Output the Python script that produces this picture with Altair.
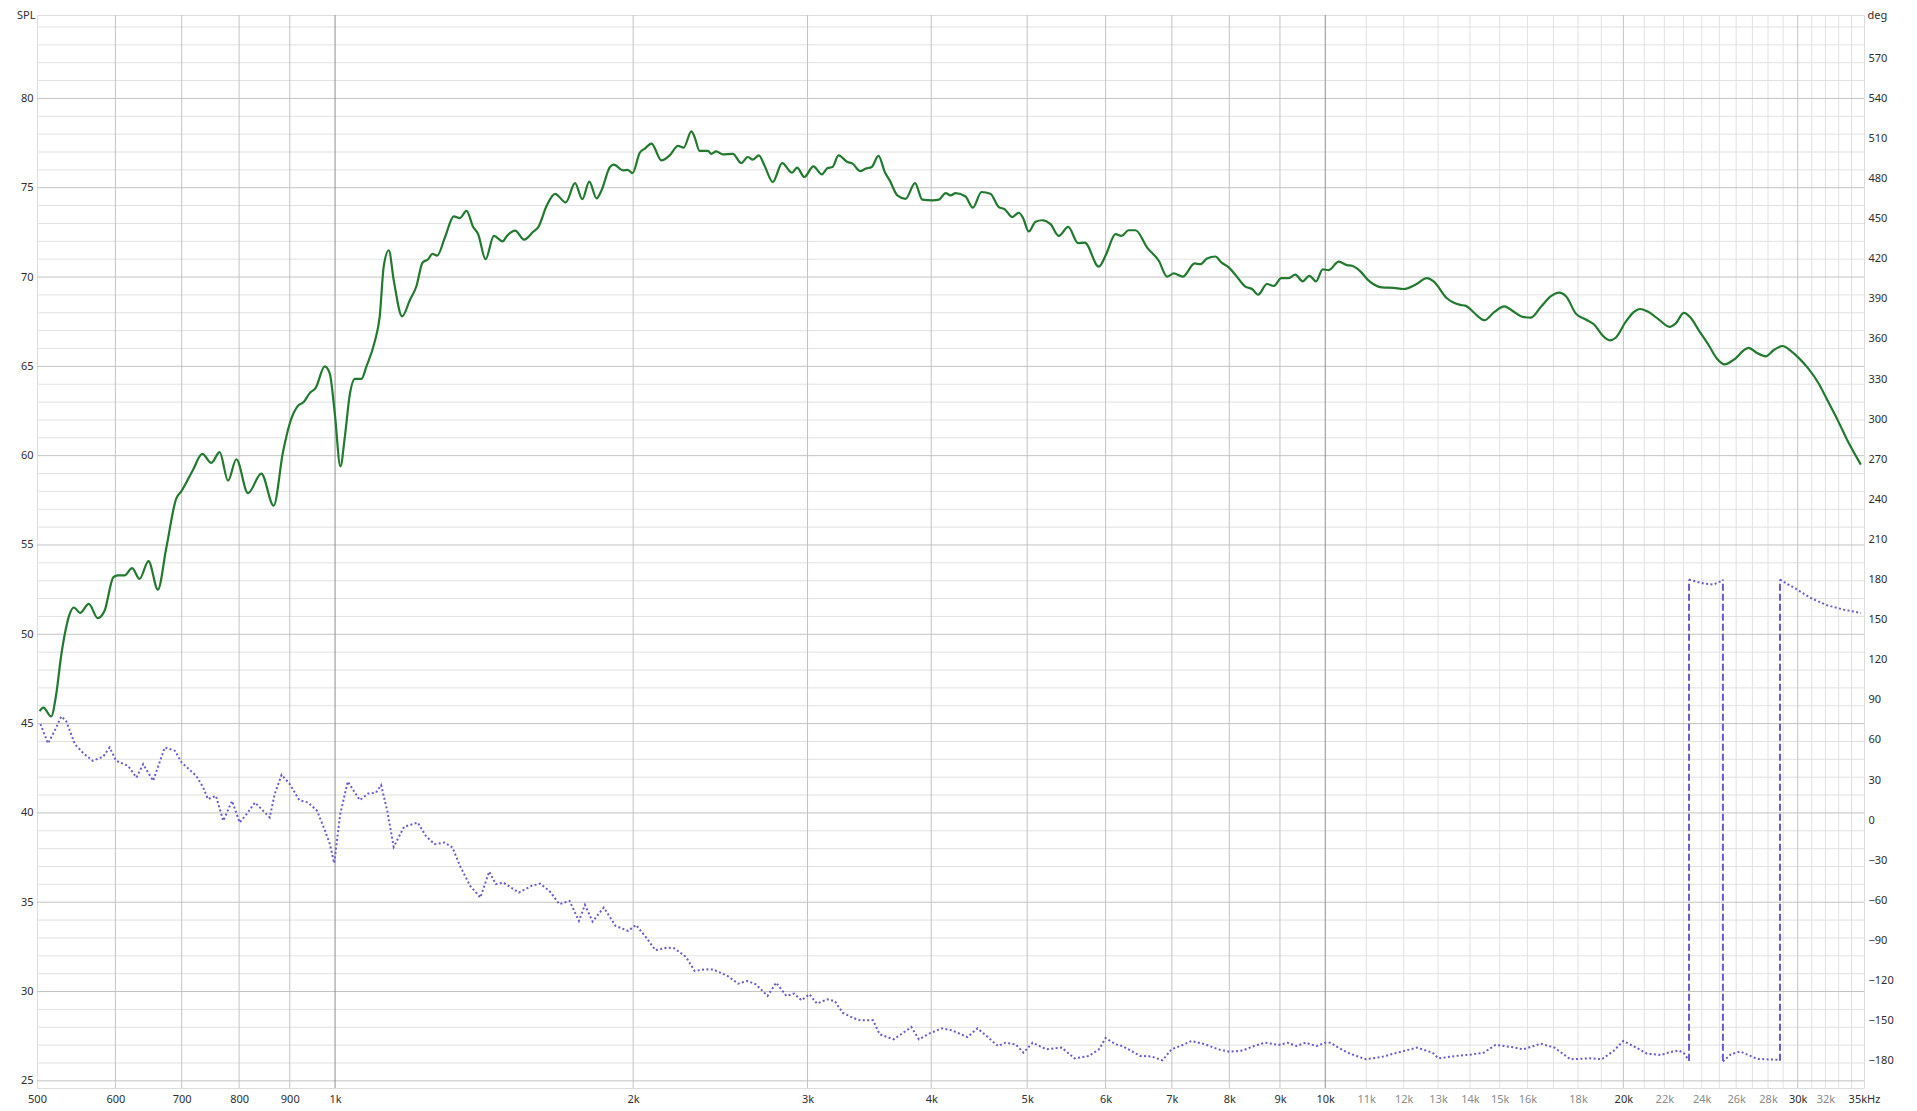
import altair as alt
import pandas as pd

# ---------------- data ----------------
SPL_FREQ = [503, 507.5, 516.7, 522.7, 528.9, 534.2, 539.2, 544.7, 552.7, 564, 575.9, 584.9, 597.3,
            603.4, 612.8, 623.8, 634.6, 648, 662.3, 675.2, 691.2, 699.3, 718.6, 734.3, 749.9, 764.6,
            779.6, 794.9, 816.7, 842.4, 866.9, 885.9, 899.9, 917.5, 929.6, 942.7, 956, 976.2, 987.7,
            999.2, 1012.5, 1022.7, 1034.7, 1046.9, 1063.2, 1075.7, 1096.8, 1109.4, 1119.8, 1133,
            1146.3, 1168.7, 1189.8, 1208.4, 1225.4, 1241.6, 1254.2, 1267.9, 1290.7, 1318, 1336.6,
            1357.5, 1378.7, 1394.8, 1419, 1446.8, 1476.3, 1491, 1520, 1552, 1586, 1604, 1636, 1668,
            1710, 1747, 1777, 1806, 1837, 1858, 1895, 1912, 1954, 1974, 1997, 2031, 2055, 2087,
            2136, 2177, 2220, 2249, 2290, 2307, 2334, 2380, 2398, 2426, 2464, 2522, 2571, 2611,
            2642, 2679, 2714, 2767, 2828, 2894, 2928, 2978, 3041, 3102, 3143, 3180, 3224, 3292,
            3331, 3390, 3435, 3483, 3538, 3593, 3632, 3697, 3769, 3852, 3918, 4010, 4072, 4136,
            4184, 4233, 4332, 4406, 4496, 4590, 4680, 4747, 4828, 4904, 4950, 5019, 5098, 5178,
            5279, 5382, 5500, 5628, 5716, 5906, 6008, 6139, 6225, 6332, 6432, 6609, 6790, 6923,
            7030, 7179, 7381, 7479, 7596, 7745, 7853, 7989, 8113, 8304, 8434, 8552, 8733, 8870,
            9029, 9184, 9328, 9488, 9637, 9787, 9940, 10079, 10317, 10519, 10642, 10850, 11062,
            11410, 11723, 11998, 12328, 12666, 12864, 13269, 13686, 13846, 14117, 14314, 14481,
            14820, 15168, 15465, 15826, 16133, 16513, 16899, 17230, 17525, 17909, 18329, 18687,
            19050, 19377, 19648, 20108, 20500, 20789, 21144, 21723, 22268, 22580, 23021, 23377,
            23834, 24393, 24868, 25314, 25848, 26762, 27284, 27858, 28358, 28956, 29475, 30050,
            30755, 31476, 32214, 32968, 33741, 34744]
SPL_DB = [45.7, 45.9, 45.4, 46.6, 48.8, 50.2, 51.1, 51.5, 51.2, 51.7, 50.9, 51.3, 53.2,
          53.3, 53.3, 53.7, 53.1, 54.1, 52.5, 54.8, 57.6, 58.0, 59.2, 60.1, 59.6, 60.2,
          58.6, 59.8, 57.9, 59.0, 57.2, 60.2, 61.8, 62.8, 63.0, 63.5, 63.8, 65.0, 64.6,
          62.4, 59.4, 61.0, 63.4, 64.3, 64.3, 65.0, 66.4, 67.8, 70.6, 71.5,
          69.8, 67.8, 68.7, 69.5, 70.8, 71.0, 71.3, 71.2, 72.2, 73.4, 73.3,
          73.7, 72.8, 72.4, 71.0, 72.3, 72.0, 72.3, 72.6, 72.1, 72.55, 72.8, 74.0, 74.66,
          74.18, 75.26, 74.36, 75.34, 74.4, 74.85, 76.16, 76.29, 75.97, 76.0, 75.82, 76.96, 77.19, 77.47,
          76.53, 76.81, 77.34, 77.24, 78.16, 77.84, 77.06, 77.06, 76.9, 77.04, 76.87, 76.9, 76.38, 76.72,
          76.57, 76.81, 76.25, 75.32, 76.38, 75.84, 76.12, 75.6, 76.2, 75.75, 76.1, 76.16, 76.81, 76.44,
          76.35, 75.93, 76.07, 76.16, 76.78, 75.84, 75.41, 74.57, 74.38, 75.26, 74.33, 74.29, 74.33, 74.7,
          74.57, 74.7, 74.51, 73.88, 74.76, 74.66, 73.92, 73.79, 73.36, 73.6, 73.33, 72.55, 73.1, 73.18,
          72.96, 72.3, 72.81, 71.9, 71.93, 70.58, 71.28, 72.4, 72.3, 72.62, 72.62, 71.65, 70.91, 70.02,
          70.2, 70.02, 70.76, 70.72, 71.04, 71.15, 70.82, 70.54, 70.13, 69.46, 69.33, 69.01, 69.61, 69.5,
          69.94, 69.94, 70.13, 69.76, 70.07, 69.76, 70.43, 70.39, 70.86, 70.67, 70.63, 70.32, 69.8,
          69.42, 69.39, 69.33, 69.57, 69.94, 69.76, 68.81, 68.44, 68.4, 68.03, 67.73, 67.58,
          68.05, 68.36, 68.1, 67.77, 67.73, 68.33, 68.93, 69.13, 68.89, 67.95, 67.62, 67.34,
          66.74, 66.46, 66.6, 67.49, 68.05, 68.21, 68.08, 67.62, 67.21, 67.39, 67.99, 67.73,
          67.02, 66.18, 65.43, 65.11, 65.37, 66.03, 65.75, 65.56, 65.9, 66.14, 65.9, 65.49,
          64.87, 64.07, 63.0, 61.92, 60.76, 59.5]

# phase, split where it wraps from -180 to +180
PH_A_FREQ = [504, 513, 521, 529, 535, 546, 556, 569, 583, 592, 601, 618, 630, 640, 655, 673, 689,
             700, 724, 736, 744, 758, 771, 787, 801, 814, 830, 846, 859, 869, 883, 900, 920, 939,
             959, 977, 988, 998, 1012, 1030, 1059, 1080, 1100, 1113, 1129, 1146, 1174, 1212, 1235,
             1260, 1290, 1314, 1337, 1369, 1402, 1431, 1453, 1479, 1533, 1579, 1611, 1646, 1685,
             1725, 1763, 1788, 1820, 1868, 1920, 1977, 2013, 2062, 2106, 2162, 2201, 2261, 2307,
             2363, 2411, 2492, 2552, 2607, 2660, 2734, 2789, 2856, 2907, 2959, 3013, 3067, 3140,
             3197, 3254, 3332, 3392, 3494, 3548, 3664, 3729, 3819, 3887, 3980, 4100, 4199, 4351,
             4455, 4562, 4671, 4755, 4869, 4957, 5064, 5229, 5418, 5581, 5769, 5908, 6000, 6141,
             6238, 6369, 6503, 6674, 6849, 6993, 7177, 7328, 7560, 7799, 8004, 8257, 8474, 8697,
             8972, 9160, 9353, 9549, 9799, 10000, 10120, 10306, 10593, 10987, 11396, 11821, 12374,
             12834, 13012, 13558, 14062, 14454, 14856, 15412, 15840, 16507, 17043, 17679, 18507,
             19021, 19548, 20000, 20466, 21132, 21822, 22300, 22744, 23008, 23300]
PH_A_DEG = [71.9, 57.4, 66.9, 77.6, 74.3, 56.9, 50.6, 44.4, 47.4, 54.4, 44.4, 40.6, 31.9, 41.9, 29.4, 54.4, 51.9,
            43.1, 33.2, 24.4, 15.7, 18.2, -0.5, 14.4, -1.8, 4.5, 13.2, 7.0, 2.0, 19.5, 33.9, 27.0, 15.0, 13.2,
            7.0, -8.0, -18.0, -32.2, 4.5, 28.9, 15.0, 19.9, 20.6, 26.2, 7.0, -20.0, -5.0, -1.8, -11.8,
            -18.0, -16.7, -20.5, -34.2, -49.2, -57.9, -38.5, -47.9, -46.7, -54.2, -49.2, -47.5, -52.9, -62.9,
            -60.4, -75.4, -63.4, -75.9, -65.4, -79.1, -82.9, -78.4, -87.9, -97.3, -95.4, -95.9, -102.3, -112.8,
            -111.6, -111.8, -116.6, -122.3, -120.3, -122.8, -131.5, -121.6, -131.5, -129.8, -134.8, -130.3, -137.3, -134.1,
            -135.4, -144.0, -147.8, -149.8, -149.8, -160.2, -164.0, -160.2, -154.8, -164.0, -159.7, -155.8, -157.3, -162.3,
            -155.8, -162.3, -169.0, -166.5, -167.8, -174.0, -166.5, -171.5, -170.2, -178.2, -176.5, -171.5, -163.0, -167.7,
            -169.0, -172.7, -176.4, -176.8, -179.7, -171.5, -168.2, -165.2, -167.7, -171.5, -173.3, -172.3, -169.0, -166.5,
            -168.2, -166.5, -169.0, -166.5, -169.0, -166.5, -166.5, -170.2, -174.7, -178.9, -177.2, -174.0, -170.2,
            -174.0, -178.2, -176.4, -175.3, -174.0, -168.2, -169.7, -171.5, -167.2, -170.2, -178.9, -178.2,
            -178.9, -172.7, -165.2, -169.0, -174.7, -175.7, -173.5, -172.4, -174.0, -180.0]
PH_B_FREQ = [23300, 24110, 24680, 25210]
PH_B_DEG = [180.0, 177.0, 176.3, 179.5]
PH_C_FREQ = [25210, 25700, 26255, 26800, 27290, 28000, 28790]
PH_C_DEG = [-180.5, -175.0, -173.1, -176.0, -178.6, -179.0, -179.4]
PH_D_FREQ = [28790, 29960, 30900, 32120, 33385, 34760]
PH_D_DEG = [180.0, 172.5, 166.3, 160.8, 157.5, 155.0]
WRAP_FREQ = [23300, 25210, 28790]
WRAP_LOW = [-180, -180, -180]
WRAP_HIGH = [180, 180, 180]

# axes / grid
X_TICKS = [500, 600, 700, 800, 900, 1000, 2000, 3000, 4000, 5000, 6000, 7000, 8000, 9000, 10000,
           11000, 12000, 13000, 14000, 15000, 16000, 18000, 20000, 22000, 24000, 26000, 28000,
           30000, 32000, 35000]
X_TICK_LABELS = ["500", "600", "700", "800", "900", "1k", "2k", "3k", "4k", "5k", "6k", "7k", "8k", "9k", "10k",
                 "11k", "12k", "13k", "14k", "15k", "16k", "18k", "20k", "22k", "24k", "26k", "28k",
                 "30k", "32k", "35kHz"]
X_DARK_LABELS = [500, 600, 700, 800, 900, 1000, 2000, 3000, 4000, 5000, 6000, 7000, 8000, 9000,
                 10000, 20000, 30000, 35000]
X_GRID_MAJOR = [1000, 10000]
X_GRID_MID = [600, 700, 800, 900, 2000, 3000, 4000, 5000, 6000, 7000, 8000, 9000, 20000, 30000]
X_GRID_MINOR = [11000, 12000, 13000, 14000, 15000, 16000, 17000, 18000, 19000,
                21000, 22000, 23000, 24000, 25000, 26000, 27000, 28000, 29000,
                31000, 32000, 33000, 34000]
SPL_LABELS = [25, 30, 35, 40, 45, 50, 55, 60, 65, 70, 75, 80]
SPL_GRID_MINOR = [v for v in range(25, 85) if v % 5 != 0]
DEG_LABELS = list(range(-180, 571, 30))

X_DOMAIN = [500, 35000]
SPL_DOMAIN = [24.6, 84.67]
DEG_DOMAIN = [-200.4, 602.4]

# ---------------- frames ----------------
spl_df = pd.DataFrame({"freq": SPL_FREQ, "spl": SPL_DB})
phase_df = pd.concat([
    pd.DataFrame({"freq": PH_A_FREQ, "deg": PH_A_DEG, "seg": "a"}),
    pd.DataFrame({"freq": PH_B_FREQ, "deg": PH_B_DEG, "seg": "b"}),
    pd.DataFrame({"freq": PH_C_FREQ, "deg": PH_C_DEG, "seg": "c"}),
    pd.DataFrame({"freq": PH_D_FREQ, "deg": PH_D_DEG, "seg": "d"}),
], ignore_index=True)
wrap_df = pd.DataFrame({"freq": WRAP_FREQ, "deg": WRAP_LOW, "hi": WRAP_HIGH})

label_expr = ""
for v, t in zip(X_TICKS, X_TICK_LABELS):
    label_expr += f"datum.value == {v} ? '{t}' : "
label_expr += "''"
dark_test = "indexof([" + ",".join(str(v) for v in X_DARK_LABELS) + "], datum.value) >= 0"

FONT = "Noto Sans"

x_enc = alt.X(
    "freq:Q",
    scale=alt.Scale(type="log", domain=X_DOMAIN, nice=False),
    axis=alt.Axis(values=X_TICKS, labelExpr=label_expr, grid=False, ticks=False, domain=False,
                  title=None, labelFontSize=11, labelPadding=5, labelFlush=False,
                  labelOverlap=False, labelFont=FONT,
                  labelColor={"condition": {"test": dark_test, "value": "#2e2e2e"}, "value": "#8a8a8a"}),
)
y_spl = alt.Y(
    "spl:Q",
    scale=alt.Scale(domain=SPL_DOMAIN, nice=False, zero=False),
    axis=alt.Axis(values=SPL_LABELS, grid=False, ticks=False, domain=False, labelFontSize=11,
                  labelPadding=4, labelColor="#2e2e2e", labelFont=FONT,
                  title="SPL", titleAngle=0, titleX=-2, titleY=-6, titleAlign="right",
                  titleBaseline="top", titleFontWeight="normal", titleFontSize=11,
                  titleColor="#2e2e2e", titleFont=FONT),
)
y_deg = alt.Y(
    "deg:Q",
    scale=alt.Scale(domain=DEG_DOMAIN, nice=False, zero=False),
    axis=alt.Axis(orient="right", values=DEG_LABELS, grid=False, ticks=False, domain=False,
                  labelFontSize=11, labelPadding=4, labelColor="#2e2e2e", labelFont=FONT,
                  title="deg", titleAngle=0, titleX=3, titleY=-6, titleAlign="left",
                  titleBaseline="top", titleFontWeight="normal", titleFontSize=11,
                  titleColor="#2e2e2e", titleFont=FONT),
)


def vgrid(values, color):
    return alt.Chart(pd.DataFrame({"freq": values})).mark_rule(color=color, strokeWidth=1).encode(x=x_enc)


def hgrid(values, color):
    return alt.Chart(pd.DataFrame({"spl": values})).mark_rule(color=color, strokeWidth=1).encode(y=y_spl)


spl_line = alt.Chart(spl_df).mark_line(color="#217a2e", strokeWidth=2.2, interpolate="monotone").encode(
    x=x_enc, y=y_spl)

spl_group = alt.layer(
    hgrid(SPL_GRID_MINOR, "#e1e1e1"),
    vgrid(X_GRID_MINOR, "#e1e1e1"),
    hgrid(SPL_LABELS, "#c3c3c3"),
    vgrid(X_GRID_MID, "#c3c3c3"),
    vgrid(X_GRID_MAJOR, "#8e8e8e"),
    spl_line,
)

phase_line = alt.Chart(phase_df).mark_line(color="#6a5acd", strokeWidth=2, strokeDash=[2, 2.4]).encode(
    x=x_enc, y=y_deg, detail="seg:N")
wrap_rules = alt.Chart(wrap_df).mark_rule(color="#6a5acd", strokeWidth=2, strokeDash=[7, 3]).encode(
    x=x_enc, y=y_deg, y2="hi:Q")

phase_group = alt.layer(phase_line, wrap_rules)

chart = (
    alt.layer(spl_group, phase_group)
    .resolve_scale(y="independent")
    .properties(width=1827, height=1073, autosize=alt.AutoSizeParams(type="none"),
                padding={"left": 29, "top": 7, "right": 45, "bottom": 22})
    .configure_view(stroke="#b4b4b4", strokeWidth=1)
    .configure(background="white", font=FONT)
)

chart.save("out.html", embed_options={"renderer": "svg", "actions": False})
